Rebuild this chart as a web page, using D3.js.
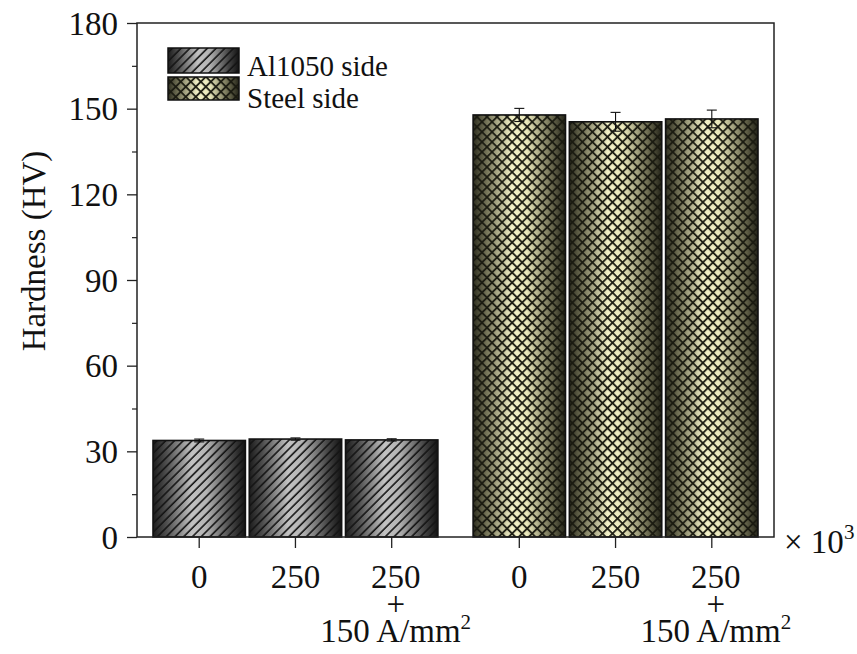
<!DOCTYPE html>
<html>
<head>
<meta charset="utf-8">
<script src="https://cdn.jsdelivr.net/npm/d3@7"></script>
<style>
  html, body { margin: 0; padding: 0; background: #fff; }
  svg { display: block; font-family: "Liberation Serif", "Times New Roman", serif; }
</style>
</head>
<body>
<svg id="chart" width="857" height="654"></svg>
<script>
// Vickers hardness on each side of the joint, per processing condition
const sides = ["Al1050 side", "Steel side"];
const conditions = ["0", "250", "250 + 150 A/mm2"];
const alHardness = [33.8, 34.3, 34.0];
const alError = [0.5, 0.4, 0.4];
const steelHardness = [147.8, 145.4, 146.4];
const steelError = [2.3, 3.3, 3.1];
const yMajorTicks = [0, 30, 60, 90, 120, 150, 180];
const yMinorTicks = [15, 45, 75, 105, 135, 165];
// tick label lines per condition; [text, superscript]
const conditionLabels = [
  [["0", ""]],
  [["250", ""]],
  [["250", ""], ["+", ""], ["150 A/mm", "2"]]
];

const series = [
  { side: sides[0], values: alHardness, errors: alError, key: "al" },
  { side: sides[1], values: steelHardness, errors: steelError, key: "steel" }
];

const svg = d3.select("#chart");
const plot = { left: 137, right: 774, top: 23, bottom: 537 };

const y = d3.scaleLinear().domain([0, 180]).range([plot.bottom, plot.top]);
const xGroup = d3.scaleBand().domain(sides).range([plot.left, plot.right])
  .paddingInner(0.11).paddingOuter(0.05);
const xCond = d3.scaleBand().domain(conditions).range([0, xGroup.bandwidth()])
  .paddingInner(0.04).paddingOuter(0);

// ---- gradients and hatch patterns
const defs = svg.append("defs");
function hGradient(id, stops) {
  const g = defs.append("linearGradient").attr("id", id)
    .attr("x1", "0%").attr("x2", "100%").attr("y1", "0%").attr("y2", "0%");
  stops.forEach(([o, c]) => g.append("stop").attr("offset", o).attr("stop-color", c));
}
hGradient("grad-al", [["0%", "#1c1c1c"], ["15%", "#505050"], ["42%", "#c2c2c2"], ["58%", "#b4b4b4"], ["85%", "#444444"], ["100%", "#121212"]]);
hGradient("grad-steel", [["0%", "#2e2e20"], ["15%", "#77765a"], ["42%", "#f4f2c8"], ["58%", "#ebe9bc"], ["85%", "#6c6b50"], ["100%", "#232318"]]);

const pAl = defs.append("pattern").attr("id", "hatch-al")
  .attr("patternUnits", "userSpaceOnUse").attr("width", 6.2).attr("height", 10)
  .attr("patternTransform", "rotate(45)");
pAl.append("line").attr("x1", 1).attr("x2", 1).attr("y1", 0).attr("y2", 10)
  .attr("stroke", "#141414").attr("stroke-width", 1.6);

const pSteel = defs.append("pattern").attr("id", "hatch-steel")
  .attr("patternUnits", "userSpaceOnUse").attr("width", 7.1).attr("height", 7.1)
  .attr("patternTransform", "rotate(45)");
pSteel.append("line").attr("x1", 1).attr("x2", 1).attr("y1", 0).attr("y2", 7.1)
  .attr("stroke", "#1a1a10").attr("stroke-width", 1.8);
pSteel.append("line").attr("x1", 0).attr("x2", 7.1).attr("y1", 1).attr("y2", 1)
  .attr("stroke", "#1a1a10").attr("stroke-width", 1.8);

// ---- bars
const bw = xCond.bandwidth();
series.forEach(s => {
  const g = svg.append("g").attr("class", "series-" + s.key);
  const data = s.values.map((v, i) => ({ v, e: s.errors[i], c: conditions[i] }));
  const bx = d => xGroup(s.side) + xCond(d.c);
  g.selectAll("rect.fill").data(data).join("rect").attr("class", "fill")
    .attr("x", bx).attr("width", bw)
    .attr("y", d => y(d.v)).attr("height", d => y(0) - y(d.v))
    .attr("fill", `url(#grad-${s.key})`);
  g.selectAll("rect.hatch").data(data).join("rect").attr("class", "hatch")
    .attr("x", bx).attr("width", bw)
    .attr("y", d => y(d.v)).attr("height", d => y(0) - y(d.v))
    .attr("fill", `url(#hatch-${s.key})`)
    .attr("stroke", "#111").attr("stroke-width", 1.6);
  // error bars
  const eg = g.selectAll("g.err").data(data).join("g").attr("class", "err")
    .attr("stroke", "#111").attr("stroke-width", 1.1);
  const cx = d => bx(d) + bw / 2;
  eg.append("line").attr("x1", cx).attr("x2", cx)
    .attr("y1", d => y(d.v + d.e)).attr("y2", d => y(d.v - d.e));
  [1, -1].forEach(sgn => {
    eg.append("line").attr("x1", d => cx(d) - 5).attr("x2", d => cx(d) + 5)
      .attr("y1", d => y(d.v + sgn * d.e)).attr("y2", d => y(d.v + sgn * d.e));
  });
});

// ---- frame
svg.append("rect").attr("x", plot.left).attr("y", plot.top)
  .attr("width", plot.right - plot.left).attr("height", plot.bottom - plot.top)
  .attr("fill", "none").attr("stroke", "#222").attr("stroke-width", 1.5);

// ---- y axis
const yAxis = svg.append("g").attr("transform", `translate(${plot.left},0)`)
  .call(d3.axisLeft(y).tickValues(yMajorTicks).tickSize(10).tickPadding(9).tickFormat(d3.format("d")));
yAxis.select(".domain").remove();
yAxis.selectAll(".tick line").attr("stroke", "#222").attr("stroke-width", 1.3);
yAxis.selectAll(".tick text").attr("font-size", 33).attr("fill", "#111")
  .attr("font-family", "Liberation Serif, serif").attr("dy", "0.34em");
const yMinor = svg.append("g").attr("transform", `translate(${plot.left},0)`)
  .call(d3.axisLeft(y).tickValues(yMinorTicks).tickSize(5).tickFormat(""));
yMinor.select(".domain").remove();
yMinor.selectAll(".tick line").attr("stroke", "#222").attr("stroke-width", 1.2);

svg.append("text")
  .attr("transform", "translate(45,251) rotate(-90)")
  .attr("text-anchor", "middle").attr("font-size", 33).attr("fill", "#111")
  .text("Hardness (HV)");

// ---- x axis ticks and labels
const tickData = [];
sides.forEach(sd => conditions.forEach((c, i) => tickData.push({ x: xGroup(sd) + xCond(c) + bw / 2, lines: conditionLabels[i] })));
svg.selectAll("line.xtick").data(tickData).join("line").attr("class", "xtick")
  .attr("x1", d => d.x).attr("x2", d => d.x)
  .attr("y1", plot.bottom).attr("y2", plot.bottom + 11)
  .attr("stroke", "#222").attr("stroke-width", 1.3);
const xl = svg.selectAll("text.xlab").data(tickData).join("text").attr("class", "xlab")
  .attr("text-anchor", "middle").attr("font-size", 33).attr("fill", "#111");
xl.each(function (d) {
  const t = d3.select(this);
  d.lines.forEach(([txt, sup], k) => {
    t.append("tspan").attr("x", d.x + (d.lines.length > 1 ? 4 : 0)).attr("y", 588 + k * 27).text(txt);
    if (sup) {
      t.append("tspan").attr("font-size", 21).attr("dy", -13).text(sup);
    }
  });
});

// multiplier next to the x axis
const mult = svg.append("text").attr("x", 784).attr("y", 553).attr("font-size", 33).attr("fill", "#111");
mult.append("tspan").text("× 10");
mult.append("tspan").attr("font-size", 21).attr("dy", -14).text("3");

// ---- legend
const legend = svg.append("g");
series.forEach((s, i) => {
  const ly = [48, 77][i];
  const lh = [25, 23][i];
  legend.append("rect").attr("x", 168).attr("y", ly).attr("width", 71).attr("height", lh)
    .attr("fill", `url(#grad-${s.key})`);
  legend.append("rect").attr("x", 168).attr("y", ly).attr("width", 71).attr("height", lh)
    .attr("fill", `url(#hatch-${s.key})`).attr("stroke", "#111").attr("stroke-width", 1.5);
  legend.append("text").attr("x", 247).attr("y", [76, 108][i])
    .attr("font-size", 29).attr("fill", "#111").text(s.side);
});
</script>
</body>
</html>
